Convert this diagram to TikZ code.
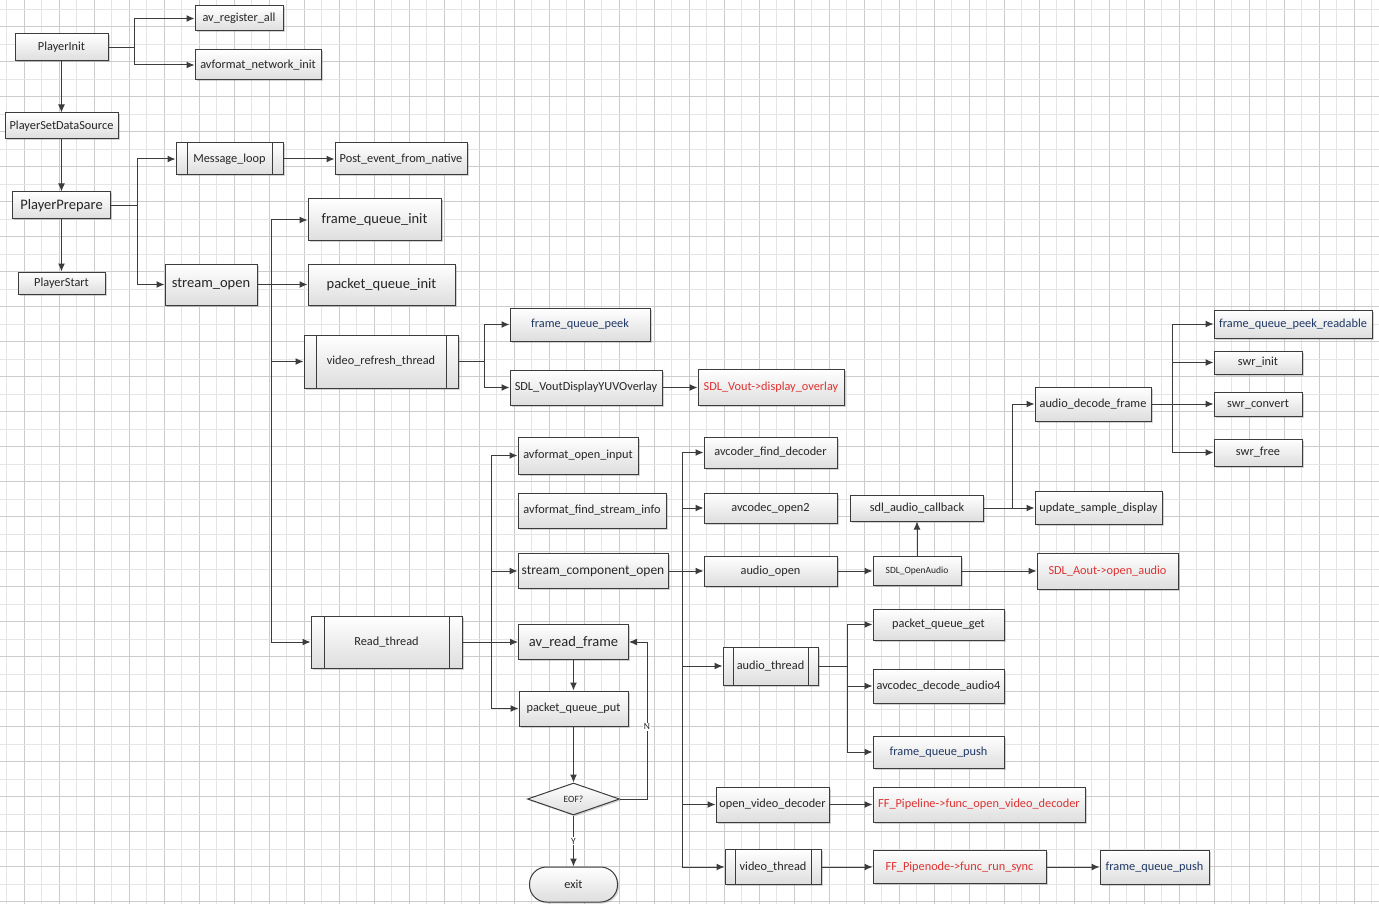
\documentclass[tikz,border=0pt]{standalone}
\usepackage{fontspec}
\setmainfont{Carlito}
\usetikzlibrary{arrows.meta,shapes.geometric,shadows}
\definecolor{linea}{RGB}{60,60,60}
\definecolor{tred}{RGB}{222,50,50}
\definecolor{tblue}{RGB}{31,56,100}
\tikzset{
  blk/.style   = {rectangle, draw=linea, line width=1pt, top color=white, bottom color=black!13,
                  drop shadow={shadow xshift=1.5pt, shadow yshift=-1.5pt, opacity=0.35},
                  inner sep=0, font=\fontsize{12.3}{14}\selectfont, text=black!85},
  wh/.style 2 args = {minimum width=#1pt, minimum height=#2pt},
  big/.style   = {font=\fontsize{14.5}{16}\selectfont},
  small/.style = {font=\fontsize{9.5}{10}\selectfont},
  proc/.style  = {path picture={
                  \draw[linea, line width=1pt] ([xshift=#1pt]path picture bounding box.north west) -- ([xshift=#1pt]path picture bounding box.south west);
                  \draw[linea, line width=1pt] ([xshift=-#1pt]path picture bounding box.north east) -- ([xshift=-#1pt]path picture bounding box.south east);}},
  dec/.style   = {blk, diamond, small},
  term/.style  = {blk, rounded corners=17pt},
  link/.style  = {draw=linea, line width=1pt},
  arr/.style   = {link, -{Latex[length=8pt,width=7pt]}},
  et/.style    = {font=\fontsize{9.5}{10}\selectfont, text=black!85, fill=white, inner sep=1pt},
  gridA/.style = {draw=gray!20, line width=0.7pt},
  gridB/.style = {draw=gray!40, line width=0.7pt}
}
\begin{document}
\begin{tikzpicture}[x=1pt,y=-1pt]
  \useasboundingbox (0,0) rectangle (1379,904);
  % grid paper
  \foreach \k in {0,...,39} \draw[gridA] ({6.7+35*\k},0) -- ++(0,904);
  \foreach \k in {0,...,38} \draw[gridB] ({24.2+35*\k},0) -- ++(0,904);
  \foreach \k in {0,...,25} \draw[gridA] (0,{9+35*\k}) -- ++(1379,0);
  \foreach \k in {0,...,25} \draw[gridB] (0,{26.5+35*\k}) -- ++(1379,0);

  % player
  \node[blk, wh={93}{27}]  (init)  at (61.5,47.5) {PlayerInit};
  \node[blk, wh={88}{25}]  (avreg) at (239,18.5) {av\_register\_all};
  \node[blk, wh={126}{30}] (avnet) at (258,65) {avformat\_network\_init};
  \draw[arr] (init.east) -- ++(26,0) |- (avreg);
  \draw[arr] (init.east) -- ++(26,0) |- (avnet);
  \node[blk, wh={113}{26}] (setds) at (61.5,126) {PlayerSetDataSource};
  \node[blk, big, wh={98}{27}] (prep) at (61.5,205.5) {PlayerPrepare};
  \node[blk, wh={87}{22}]  (start) at (61.5,283) {PlayerStart};
  \draw[arr] (init) -- (setds); \draw[arr] (setds) -- (prep); \draw[arr] (prep) -- (start);

  \node[blk, proc=11, wh={107}{32}] (msg)  at (229.5,159) {Message\_loop};
  \node[blk, wh={132}{32}]          (post) at (401,159) {Post\_event\_from\_native};
  \draw[arr] (msg) -- (post);
  \node[blk, big, wh={92}{41}] (sopen) at (211,284.5) {stream\_open};
  \draw[arr] (prep.east) -- ++(26,0) |- (msg);
  \draw[arr] (prep.east) -- ++(26,0) |- (sopen);

  % stream_open
  \node[blk, big, wh={133}{42}] (fqinit) at (374.5,220) {frame\_queue\_init};
  \node[blk, big, wh={147}{41}] (pqinit) at (381.5,284.5) {packet\_queue\_init};
  \node[blk, proc=12, wh={154}{53}] (vref)   at (381,361.5) {video\_refresh\_thread};
  \node[blk, proc=13, wh={151}{52}] (readth) at (386.5,642) {Read\_thread};
  \draw[arr] (sopen) -- (pqinit);
  \draw[arr] (sopen.east) -- ++(14,0) |- (fqinit);
  \draw[arr] (sopen.east) -- ++(14,0) |- (vref);
  \draw[arr] (sopen.east) -- ++(14,0) |- (readth);

  % video refresh
  \node[blk, text=tblue, wh={140}{33}] (fqpeek) at (580,324.5) {frame\_queue\_peek};
  \node[blk, wh={152}{35}]             (yuv)    at (586,387.5) {SDL\_VoutDisplayYUVOverlay};
  \node[blk, text=tred, wh={146}{36}]  (dispov) at (771,387.5) {SDL\_Vout->display\_overlay};
  \draw[arr] (vref.east) -- ++(26,0) |- (fqpeek);
  \draw[arr] (vref.east) -- ++(26,0) |- (yuv);
  \draw[arr] (yuv) -- (dispov);

  % read thread
  \node[blk, wh={120}{37}] (openin) at (578,455.5) {avformat\_open\_input};
  \node[blk, wh={148}{35}] (findsi) at (592,510.5) {avformat\_find\_stream\_info};
  \node[blk, font=\fontsize{13.5}{15}\selectfont, wh={150}{35}] (sco) at (593,571) {stream\_component\_open};
  \node[blk, big, wh={110}{35}] (readfr) at (573.5,642) {av\_read\_frame};
  \node[blk, wh={109}{35}] (pqput) at (573.5,708.5) {packet\_queue\_put};
  \node[dec, minimum width=92pt, minimum height=32pt] (eof) at (573.5,799) {EOF?};
  \node[term, wh={88}{35}] (exit) at (573.5,884.5) {exit};
  \draw[arr] (readth) -- (readfr);
  \draw[arr] (readth.east) -- ++(29,0) |- (openin);
  \draw[arr] (readth.east) -- ++(29,0) |- (sco);
  \draw[arr] (readth.east) -- ++(29,0) |- (pqput);
  \draw[arr] (readfr) -- (pqput); \draw[arr] (pqput) -- (eof);
  \draw[arr] (eof) -- node[et] (ly) {Y} (exit);
  \draw[arr] (eof.east) -- ++(27,0) |- node[et, pos=0.23] (ln) {N} (readfr);

  % stream_component_open
  \node[blk, wh={133}{31}] (findec) at (770.5,452.5) {avcoder\_find\_decoder};
  \node[blk, wh={133}{30}] (open2)  at (770.5,508) {avcodec\_open2};
  \node[blk, wh={133}{30}] (aopen)  at (770.5,571) {audio\_open};
  \node[blk, proc=10, wh={95}{38}] (athread) at (770.5,666) {audio\_thread};
  \node[blk, wh={113}{35}] (ovdec)  at (772.5,804.5) {open\_video\_decoder};
  \node[blk, proc=10, wh={96}{35}] (vthread) at (773,867) {video\_thread};
  \draw[arr] (sco) -- (aopen);
  \draw[arr] (sco.east) -- ++(14,0) |- (findec);
  \draw[arr] (sco.east) -- ++(14,0) |- (open2);
  \draw[arr] (sco.east) -- ++(14,0) |- (athread);
  \draw[arr] (sco.east) -- ++(14,0) |- (ovdec);
  \draw[arr] (sco.east) -- ++(14,0) |- (vthread);

  % audio open
  \node[blk, wh={133}{26}] (callb) at (917,508) {sdl\_audio\_callback};
  \node[blk, small, wh={88}{29}] (sdlopen) at (917,571) {SDL\_OpenAudio};
  \node[blk, text=tred, wh={141}{36}] (aout) at (1107.5,571) {SDL\_Aout->open\_audio};
  \draw[arr] (aopen) -- (sdlopen); \draw[arr] (sdlopen) -- (aout); \draw[arr] (sdlopen) -- (callb);
  \node[blk, wh={116}{34}] (adec) at (1093,404) {audio\_decode\_frame};
  \node[blk, wh={127}{33}] (upd)  at (1098.5,508) {update\_sample\_display};
  \draw[arr] (callb) -- (upd);
  \draw[arr] (callb.east) -- ++(28,0) |- (adec);
  \node[blk, text=tblue, wh={158}{28}] (fqpr) at (1293,324) {frame\_queue\_peek\_readable};
  \node[blk, wh={88}{23}] (swrinit) at (1258,362.5) {swr\_init};
  \node[blk, wh={88}{24}] (swrconv) at (1258,404) {swr\_convert};
  \node[blk, wh={88}{27}] (swrfree) at (1258,452.5) {swr\_free};
  \draw[arr] (adec) -- (swrconv);
  \draw[arr] (adec.east) -- ++(21,0) |- (fqpr);
  \draw[arr] (adec.east) -- ++(21,0) |- (swrinit);
  \draw[arr] (adec.east) -- ++(21,0) |- (swrfree);

  % audio thread
  \node[blk, wh={131}{31}] (pqget)  at (938.5,624.5) {packet\_queue\_get};
  \node[blk, wh={131}{34}] (decaud) at (938.5,686) {avcodec\_decode\_audio4};
  \node[blk, text=tblue, wh={131}{32}] (fqpush) at (938.5,752) {frame\_queue\_push};
  \draw[arr] (athread.east) -- ++(29,0) |- (pqget);
  \draw[arr] (athread.east) -- ++(29,0) |- (decaud);
  \draw[arr] (athread.east) -- ++(29,0) |- (fqpush);

  % video
  \node[blk, text=tred, wh={212}{35}]  (ffpipe)  at (979,804.5) {FF\_Pipeline->func\_open\_video\_decoder};
  \node[blk, text=tred, wh={173}{33}]  (runsync) at (959.5,867) {FF\_Pipenode->func\_run\_sync};
  \node[blk, text=tblue, wh={109}{34}] (fqpush2) at (1154.5,867) {frame\_queue\_push};
  \draw[arr] (ovdec) -- (ffpipe);
  \draw[arr] (vthread) -- (runsync); \draw[arr] (runsync) -- (fqpush2);
\end{tikzpicture}
\end{document}
